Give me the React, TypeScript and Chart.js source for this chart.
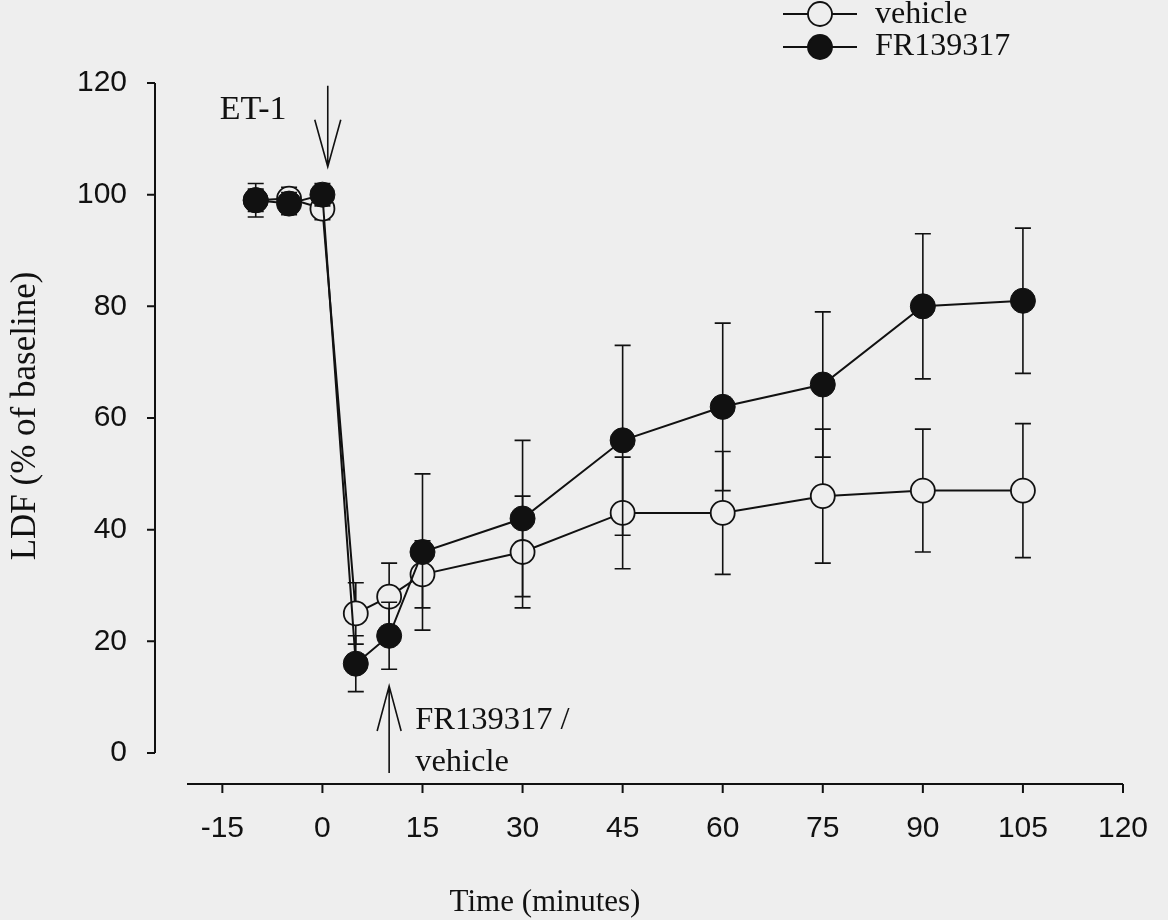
import React, { useEffect, useRef } from "react";
import { Chart, registerables } from "chart.js";

Chart.register(...registerables);

// ---- data ----
const timePoints = [-10, -5, 0, 5, 10, 15, 30, 45, 60, 75, 90, 105];
const vehicleMean = [99, 99.3, 97.5, 25, 28, 32, 36, 43, 43, 46, 47, 47];
const vehicleErr = [2, 2, 2, 5.5, 6, 6, 10, 10, 11, 12, 11, 12];
const frMean = [99, 98.4, 100, 16, 21, 36, 42, 56, 62, 66, 80, 81];
const frErr = [3, 2, 2, 5, 6, 14, 14, 17, 15, 13, 13, 13];

const seriesLabels = ["vehicle", "FR139317"];
const xTicks = [-15, 0, 15, 30, 45, 60, 75, 90, 105, 120];
const yTicks = [0, 20, 40, 60, 80, 100, 120];
const xTitle = "Time (minutes)";
const yTitle = "LDF (% of baseline)";
const etLabel = "ET-1";
const frLabelLines = ["FR139317 /", "vehicle"];

// annotation anchors in data units
const etArrow = { x: 0.8, yTop: 119.5, yTip: 105 };
const frArrow = { x: 10, yTip: 12, yBottom: -3.6 };

const BG = "#eeeeee";
const INK = "#111111";
const SERIF = "'Liberation Serif', 'Times New Roman', serif";
const SANS = "'Liberation Sans', Arial, sans-serif";

const errorSets = [vehicleErr, frErr];

const customPlugin = {
  id: "customDecor",
  beforeDraw(chart: any) {
    const { ctx, width, height } = chart;
    ctx.save();
    ctx.fillStyle = BG;
    ctx.fillRect(0, 0, width, height);
    ctx.restore();
  },
  beforeDatasetDraw(chart: any, args: any) {
    const i = args.index;
    const errs = errorSets[i];
    const ds = chart.data.datasets[i];
    const xs = chart.scales.x;
    const ys = chart.scales.y;
    const ctx = chart.ctx;
    ctx.save();
    ctx.strokeStyle = INK;
    ctx.lineWidth = 1.6;
    const cap = 8;
    ds.data.forEach((p: any, k: number) => {
      const e = errs[k];
      const px = xs.getPixelForValue(p.x);
      const yHi = ys.getPixelForValue(p.y + e);
      const yLo = ys.getPixelForValue(p.y - e);
      ctx.beginPath();
      ctx.moveTo(px, yHi);
      ctx.lineTo(px, yLo);
      ctx.moveTo(px - cap, yHi);
      ctx.lineTo(px + cap, yHi);
      ctx.moveTo(px - cap, yLo);
      ctx.lineTo(px + cap, yLo);
      ctx.stroke();
    });
    ctx.restore();
  },
  afterDatasetsDraw(chart: any) {
    const { ctx, chartArea } = chart;
    const xs = chart.scales.x;
    const ys = chart.scales.y;
    ctx.save();
    ctx.strokeStyle = INK;
    ctx.fillStyle = INK;
    ctx.lineWidth = 2;

    // offset y axis
    const yAxisX = chartArea.left - 34;
    ctx.beginPath();
    ctx.moveTo(yAxisX, ys.getPixelForValue(0));
    ctx.lineTo(yAxisX, ys.getPixelForValue(120));
    yTicks.forEach((v) => {
      const py = ys.getPixelForValue(v);
      ctx.moveTo(yAxisX - 8, py);
      ctx.lineTo(yAxisX, py);
    });
    ctx.stroke();

    // offset x axis
    const xAxisY = chartArea.bottom + 31;
    ctx.beginPath();
    ctx.moveTo(xs.getPixelForValue(xs.min) - 2, xAxisY);
    ctx.lineTo(xs.getPixelForValue(xs.max), xAxisY);
    xTicks.forEach((v) => {
      const px = xs.getPixelForValue(v);
      ctx.moveTo(px, xAxisY);
      ctx.lineTo(px, xAxisY + 9);
    });
    ctx.stroke();

    // axis titles
    ctx.font = `31px ${SERIF}`;
    ctx.textAlign = "center";
    ctx.textBaseline = "alphabetic";
    ctx.fillText(xTitle, 545, 911);

    ctx.save();
    ctx.translate(35, 416);
    ctx.rotate(-Math.PI / 2);
    ctx.font = `35px ${SERIF}`;
    ctx.textAlign = "center";
    ctx.fillText(yTitle, 0, 0);
    ctx.restore();

    // ET-1 arrow (pointing down)
    ctx.lineWidth = 1.6;
    const ex = xs.getPixelForValue(etArrow.x);
    const eTop = ys.getPixelForValue(etArrow.yTop);
    const eTip = ys.getPixelForValue(etArrow.yTip);
    ctx.beginPath();
    ctx.moveTo(ex, eTop);
    ctx.lineTo(ex, eTip);
    ctx.moveTo(ex - 13, eTip - 47);
    ctx.lineTo(ex, eTip);
    ctx.lineTo(ex + 13, eTip - 47);
    ctx.stroke();

    ctx.font = `34px ${SERIF}`;
    ctx.textAlign = "left";
    ctx.fillText(etLabel, ex - 108, eTop + 33);

    // FR139317 / vehicle arrow (pointing up)
    ctx.font = `32.5px ${SERIF}`;
    const fx = xs.getPixelForValue(frArrow.x);
    const fTip = ys.getPixelForValue(frArrow.yTip);
    const fBot = ys.getPixelForValue(frArrow.yBottom);
    ctx.beginPath();
    ctx.moveTo(fx, fBot);
    ctx.lineTo(fx, fTip);
    ctx.moveTo(fx - 12, fTip + 45);
    ctx.lineTo(fx, fTip);
    ctx.lineTo(fx + 12, fTip + 45);
    ctx.stroke();
    frLabelLines.forEach((t, k) => {
      ctx.fillText(t, fx + 26, fTip + 43 + k * 42);
    });

    // legend
    const legendRows = [
      { y: 14, filled: false, label: seriesLabels[0], base: 23 },
      { y: 47, filled: true, label: seriesLabels[1], base: 55 },
    ];
    legendRows.forEach((r) => {
      ctx.lineWidth = 2;
      ctx.beginPath();
      ctx.moveTo(783, r.y);
      ctx.lineTo(857, r.y);
      ctx.stroke();
      ctx.beginPath();
      ctx.arc(820, r.y, 12, 0, Math.PI * 2);
      ctx.fillStyle = r.filled ? INK : BG;
      ctx.fill();
      ctx.lineWidth = 1.8;
      ctx.stroke();
      ctx.fillStyle = INK;
      ctx.font = `32px ${SERIF}`;
      ctx.textAlign = "left";
      ctx.fillText(r.label, 875, r.base);
    });

    ctx.restore();
  },
};

export default function App() {
  const canvasRef = useRef<HTMLCanvasElement | null>(null);

  useEffect(() => {
    const canvas = canvasRef.current;
    if (!canvas) return;
    const vehiclePts = timePoints.map((t, i) => ({ x: t, y: vehicleMean[i] }));
    const frPts = timePoints.map((t, i) => ({ x: t, y: frMean[i] }));

    const chart = new Chart(canvas, {
      type: "line",
      data: {
        datasets: [
          {
            label: seriesLabels[0],
            data: vehiclePts,
            borderColor: INK,
            borderWidth: 2,
            backgroundColor: BG,
            pointBackgroundColor: BG,
            pointBorderColor: INK,
            pointBorderWidth: 1.8,
            pointRadius: 12,
            pointHoverRadius: 12,
            tension: 0,
            clip: false,
            order: 2,
          },
          {
            label: seriesLabels[1],
            data: frPts,
            borderColor: INK,
            borderWidth: 2,
            backgroundColor: INK,
            pointBackgroundColor: INK,
            pointBorderColor: INK,
            pointBorderWidth: 1,
            pointRadius: 12.5,
            pointHoverRadius: 12.5,
            tension: 0,
            clip: false,
            order: 1,
          },
        ],
      },
      options: {
        responsive: false,
        animation: false,
        devicePixelRatio: 1,
        layout: { padding: { top: 83, right: 45, left: 0, bottom: 0 } },
        plugins: {
          legend: { display: false },
          tooltip: { enabled: false },
          title: { display: false },
        },
        scales: {
          x: {
            type: "linear",
            position: "bottom",
            min: -20,
            max: 120,
            grid: { display: false, drawTicks: false },
            border: { display: false },
            afterBuildTicks: (s: any) => {
              s.ticks = xTicks.map((v) => ({ value: v }));
            },
            afterFit: (s: any) => {
              s.height = 920 - 753;
              s.paddingLeft = 0;
              s.paddingRight = 0;
            },
            ticks: {
              autoSkip: false,
              maxRotation: 0,
              minRotation: 0,
              padding: 58,
              color: INK,
              font: { family: SANS, size: 30 },
            },
          },
          y: {
            type: "linear",
            position: "left",
            min: 0,
            max: 120,
            grid: { display: false, drawTicks: false },
            border: { display: false },
            afterBuildTicks: (s: any) => {
              s.ticks = yTicks.map((v) => ({ value: v }));
            },
            afterFit: (s: any) => {
              s.width = 189;
              s.paddingTop = 0;
              s.paddingBottom = 0;
            },
            ticks: {
              autoSkip: false,
              padding: 62,
              color: INK,
              font: { family: SANS, size: 30 },
            },
          },
        },
      },
      plugins: [customPlugin],
    });
    return () => chart.destroy();
  }, []);

  return (
    <div style={{ position: "fixed", left: 0, top: 0, width: 1168, height: 920, background: BG }}>
      <canvas ref={canvasRef} width={1168} height={920} style={{ display: "block" }} />
    </div>
  );
}
